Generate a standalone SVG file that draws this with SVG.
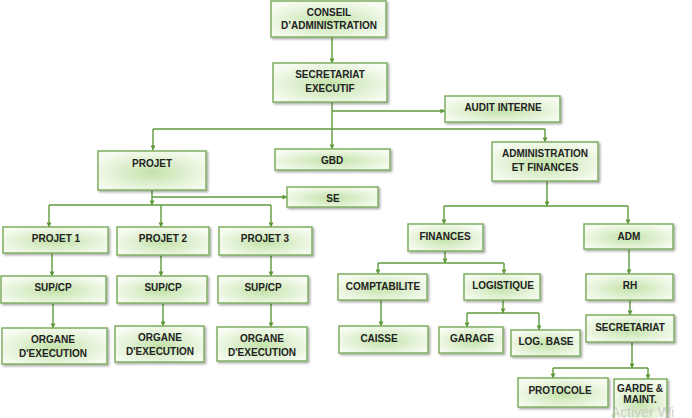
<svg xmlns="http://www.w3.org/2000/svg" width="692" height="418" viewBox="0 0 692 418">
<defs>
<radialGradient id="g" cx="0.5" cy="0.55" r="0.6">
<stop offset="0" stop-color="#c3e2a9"/>
<stop offset="0.6" stop-color="#e3f2d6"/>
<stop offset="1" stop-color="#f7fcf2"/>
</radialGradient>
<filter id="sh" x="-10%" y="-20%" width="130%" height="160%">
<feDropShadow dx="1.5" dy="1.5" stdDeviation="0.8" flood-color="#000" flood-opacity="0.35"/>
</filter>
<marker id="a" viewBox="0 0 6 6" refX="5.5" refY="3" markerWidth="5" markerHeight="5" orient="auto" markerUnits="userSpaceOnUse">
<path d="M0,0 L6,3 L0,6 z" fill="#5e9a3c"/>
</marker>
</defs>
<style>
.b rect{fill:url(#g);stroke:#80ae62;stroke-width:1.5;filter:url(#sh)}
.b text{font-family:"Liberation Sans",Arial,sans-serif;font-weight:bold;font-size:10px;fill:#222;text-anchor:middle}
.c path{fill:none;stroke:#5e9a3c;stroke-width:1.4}
.c .m{marker-end:url(#a)}
</style>
<g class="c" id="connectors">
<path class="m" d="M332,37 V63"/>
<path class="m" d="M332,102 V149"/>
<path class="m" d="M332,111 H445"/>
<path d="M153,129 H545"/>
<path class="m" d="M153,129 V150"/>
<path class="m" d="M545,129 V142"/>
<path class="m" d="M152,190 V205"/>
<path class="m" d="M152,197 H287"/>
<path d="M49,205 H271"/>
<path class="m" d="M49,205 V227"/>
<path class="m" d="M161,205 V227"/>
<path class="m" d="M271,205 V227"/>
<path class="m" d="M52,253 V276"/>
<path class="m" d="M161,255 V276"/>
<path class="m" d="M271,255 V276"/>
<path class="m" d="M53,303 V328"/>
<path class="m" d="M163,303 V326"/>
<path class="m" d="M271,303 V327"/>
<path class="m" d="M547,181 V206"/>
<path d="M444,206 H628"/>
<path class="m" d="M444,206 V224"/>
<path class="m" d="M628,206 V224"/>
<path class="m" d="M445,251 V263"/>
<path d="M378,263 H504"/>
<path class="m" d="M378,263 V274"/>
<path class="m" d="M504,263 V274"/>
<path class="m" d="M629,249 V274"/>
<path class="m" d="M381,300 V326"/>
<path class="m" d="M503,300 V313"/>
<path d="M467,313 H539"/>
<path class="m" d="M467,313 V327"/>
<path class="m" d="M539,313 V330"/>
<path class="m" d="M630,300 V315"/>
<path class="m" d="M632,342 V368"/>
<path d="M553,368 H648"/>
<path class="m" d="M553,368 V378"/>
<path class="m" d="M648,368 V379"/>
</g>
<g class="b" id="conseil"><rect x="271" y="1" width="115" height="36"/><text x="329" y="15.5">CONSEIL</text><text x="329" y="28.5">D’ADMINISTRATION</text></g>
<g class="b" id="secretariat-executif"><rect x="273" y="63" width="114" height="39"/><text x="330" y="78">SECRETARIAT</text><text x="330" y="92">EXECUTIF</text></g>
<g class="b" id="audit"><rect x="445" y="96" width="115" height="26"/><text x="503" y="110.5">AUDIT INTERNE</text></g>
<g class="b" id="projet"><rect x="98" y="151" width="108" height="39"/><text x="152" y="166.5">PROJET</text></g>
<g class="b" id="gbd"><rect x="275" y="149" width="115" height="21"/><text x="332" y="163.5">GBD</text></g>
<g class="b" id="se"><rect x="287" y="187" width="91" height="20"/><text x="333" y="201.5">SE</text></g>
<g class="b" id="admin-finances"><rect x="492" y="142" width="106" height="39"/><text x="545" y="156.5">ADMINISTRATION</text><text x="545" y="170.5">ET FINANCES</text></g>
<g class="b" id="projet1"><rect x="3" y="227" width="105" height="26"/><text x="56" y="241.5">PROJET 1</text></g>
<g class="b" id="projet2"><rect x="117" y="227" width="92" height="28"/><text x="163" y="241.5">PROJET 2</text></g>
<g class="b" id="projet3"><rect x="219" y="227" width="93" height="28"/><text x="265" y="241.5">PROJET 3</text></g>
<g class="b" id="supcp1"><rect x="1" y="276" width="105" height="27"/><text x="53" y="290.5">SUP/CP</text></g>
<g class="b" id="supcp2"><rect x="117" y="276" width="90" height="27"/><text x="163" y="290.5">SUP/CP</text></g>
<g class="b" id="supcp3"><rect x="218" y="276" width="90" height="27"/><text x="263" y="290.5">SUP/CP</text></g>
<g class="b" id="organe1"><rect x="2" y="328" width="105" height="36"/><text x="53" y="342.5">ORGANE</text><text x="53" y="356.5">D'EXECUTION</text></g>
<g class="b" id="organe2"><rect x="115" y="326" width="89" height="36"/><text x="160" y="340.5">ORGANE</text><text x="160" y="354.5">D'EXECUTION</text></g>
<g class="b" id="organe3"><rect x="217" y="327" width="90" height="34"/><text x="262" y="341.5">ORGANE</text><text x="262" y="355.5">D'EXECUTION</text></g>
<g class="b" id="finances"><rect x="408" y="224" width="75" height="27"/><text x="445" y="239.5">FINANCES</text></g>
<g class="b" id="adm"><rect x="584" y="224" width="89" height="25"/><text x="629" y="239.5">ADM</text></g>
<g class="b" id="comptabilite"><rect x="338" y="274" width="89" height="26"/><text x="383" y="289.5">COMPTABILITE</text></g>
<g class="b" id="logistique"><rect x="464" y="274" width="76" height="26"/><text x="503" y="288.5">LOGISTIQUE</text></g>
<g class="b" id="rh"><rect x="586" y="274" width="87" height="26"/><text x="630" y="288.5">RH</text></g>
<g class="b" id="caisse"><rect x="339" y="326" width="89" height="27"/><text x="379" y="341.5">CAISSE</text></g>
<g class="b" id="garage"><rect x="439" y="327" width="64" height="26"/><text x="472" y="341.5">GARAGE</text></g>
<g class="b" id="logbase"><rect x="511" y="330" width="69" height="26"/><text x="546" y="344.5">LOG. BASE</text></g>
<g class="b" id="secretariat"><rect x="586" y="315" width="88" height="27"/><text x="630" y="330.5">SECRETARIAT</text></g>
<g class="b" id="protocole"><rect x="518" y="378" width="90" height="29"/><text x="560" y="393.5">PROTOCOLE</text></g>
<g class="b" id="garde"><rect x="614" y="379" width="53" height="42"/><text x="640" y="392">GARDE &amp;</text><text x="640" y="403">MAINT.</text></g>
<text x="611" y="417" font-family="'Liberation Sans',Arial,sans-serif" font-size="14" fill="#c4c4c4" fill-opacity="0.8">Activer Wi</text>
</svg>
